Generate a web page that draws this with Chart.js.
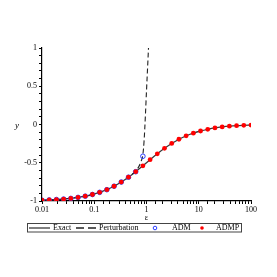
<!DOCTYPE html>
<html><head><meta charset="utf-8">
<script src="https://cdn.jsdelivr.net/npm/chart.js@4"></script>
<style>html,body{margin:0;padding:0;background:#fff}#wrap{width:277px;height:277px}</style>
</head><body><div id="wrap"><canvas id="c" width="277" height="277"></canvas></div>
<script>
const epsValues = [0.01,0.01374,0.01888,0.02593,0.03562,0.04894,0.06723,0.09237,0.1269,0.1743,0.2395,0.3290,0.4520,0.6210,0.8532,1.172,1.610,2.212,3.039,4.175,5.736,7.880,10.83,14.87,20.43,28.07,38.57,52.98,72.79,100];
const exactY = [-0.99,-0.986,-0.981,-0.975,-0.966,-0.953,-0.937,-0.915,-0.887,-0.852,-0.807,-0.752,-0.689,-0.617,-0.540,-0.460,-0.383,-0.311,-0.248,-0.193,-0.148,-0.113,-0.085,-0.063,-0.045,-0.032,-0.022,-0.015,-0.011,-0.008];
const admpY = [-0.99,-0.986,-0.981,-0.975,-0.966,-0.953,-0.937,-0.915,-0.887,-0.852,-0.807,-0.752,-0.689,-0.617,-0.540,-0.460,-0.383,-0.311,-0.248,-0.193,-0.148,-0.113,-0.085,-0.063,-0.045,-0.032,-0.022,-0.015,-0.011,-0.008];
const admEps = [0.01,0.01374,0.01888,0.02593,0.03562,0.04894,0.06723,0.09237,0.1269,0.1743,0.2395,0.3290,0.4520,0.6210,0.8532];
const admY = [-0.99,-0.986,-0.981,-0.975,-0.966,-0.953,-0.937,-0.915,-0.887,-0.852,-0.807,-0.752,-0.689,-0.617,-0.415];
const pertEps = [0.01,0.02,0.05,0.1,0.2,0.3,0.4,0.5,0.6,0.7,0.75,0.8,0.85,0.9,0.95,1.0,1.05,1.1,1.15];
const pertY = [-0.99,-0.98,-0.952,-0.909,-0.833,-0.769,-0.714,-0.665,-0.62,-0.56,-0.52,-0.47,-0.40,-0.21,0.10,0.44,0.75,1.05,1.4];
const xTicks = [0.01,0.1,1,10,100];
const yTicks = [-1,-0.5,0,0.5,1];
const seriesNames = ['Exact','Perturbation','ADM','ADMP'];
const xTitle = 'ε', yTitle = 'y';

const pts = (xs, ys) => xs.map((x, i) => ({x, y: ys[i]}));
const SERIF = '"Liberation Serif","DejaVu Serif",serif';

const legendPlugin = {
  id: 'boxLegend',
  afterDraw(chart) {
    const ctx = chart.ctx;
    const ds = chart.data.datasets;
    ctx.save();
    ctx.font = 'italic 9px ' + SERIF;
    ctx.fillStyle = '#000';
    ctx.textAlign = 'center'; ctx.textBaseline = 'middle';
    ctx.fillText(yTitle, 17, 126);
    const yc = 228;
    ctx.strokeStyle = '#444'; ctx.lineWidth = 1;
    ctx.strokeRect(27.5, 223.5, 214, 8.5);
    ctx.font = '8px ' + SERIF;
    ctx.textAlign = 'left';
    ctx.fillStyle = '#000';
    ctx.strokeStyle = ds[0].borderColor; ctx.lineWidth = 1.3; ctx.setLineDash([]);
    ctx.beginPath(); ctx.moveTo(29, yc); ctx.lineTo(50, yc); ctx.stroke();
    ctx.fillText(ds[0].label, 53, yc);
    ctx.strokeStyle = ds[1].borderColor; ctx.setLineDash([8, 4]);
    ctx.beginPath(); ctx.moveTo(76, yc); ctx.lineTo(97, yc); ctx.stroke();
    ctx.setLineDash([]);
    ctx.fillText(ds[1].label, 99, yc);
    ctx.strokeStyle = ds[2].pointBorderColor; ctx.lineWidth = 1;
    ctx.beginPath(); ctx.arc(155, yc, 1.8, 0, Math.PI*2); ctx.stroke();
    ctx.fillText(ds[2].label, 172, yc);
    ctx.fillStyle = ds[3].pointBackgroundColor;
    ctx.beginPath(); ctx.arc(202, yc, 1.8, 0, Math.PI*2); ctx.fill();
    ctx.fillStyle = '#000';
    ctx.fillText(ds[3].label, 216, yc);
    ctx.restore();
  }
};

new Chart(document.getElementById('c'), {
  type: 'line',
  data: {
    datasets: [
      {label: seriesNames[0], data: pts(epsValues, exactY), borderColor: '#3a3a3a', borderWidth: 1.3, pointRadius: 0, cubicInterpolationMode: 'monotone', order: 4},
      {label: seriesNames[1], data: pts(pertEps, pertY), borderColor: '#222', borderWidth: 1.1, borderDash: [5, 3], pointRadius: 0, cubicInterpolationMode: 'monotone', order: 3},
      {label: seriesNames[2], data: pts(admEps, admY), showLine: false, pointRadius: 2.3, pointBorderWidth: 1, pointBorderColor: '#2a3cff', pointBackgroundColor: 'rgba(0,0,0,0)', order: 2},
      {label: seriesNames[3], data: pts(epsValues, admpY), showLine: false, pointRadius: 2.4, pointBorderWidth: 0, pointBorderColor: '#ff0000', pointBackgroundColor: '#ff0000', order: 1}
    ]
  },
  options: {
    responsive: false, animation: false,
    layout: {padding: {left: 0, top: 48, right: 26, bottom: 54}},
    plugins: {legend: {display: false}, tooltip: {enabled: false}},
    scales: {
      x: {
        type: 'logarithmic', min: 0.01, max: 100,
        afterFit(s) { s.height = 22; },
        border: {display: true, color: '#000', width: 1.2},
        grid: {drawOnChartArea: false, tickLength: 3, color: '#000'},
        ticks: {autoSkip: false, maxRotation: 0, padding: 1, color: '#000', font: {family: SERIF, size: 8},
          callback(v) { return xTicks.some(t => Math.abs(t - v) / t < 1e-6) ? String(v) : ''; }},
        title: {display: true, text: xTitle, color: '#000', font: {family: SERIF, size: 8}, padding: {top: 0, bottom: 0}}
      },
      y: {
        min: -1, max: 1,
        afterFit(s) { s.width = 42; },
        border: {display: true, color: '#000', width: 1.2},
        grid: {drawOnChartArea: false, tickLength: 3, color: '#000'},
        ticks: {stepSize: 0.1, autoSkip: false, padding: 2, color: '#000', font: {family: SERIF, size: 8},
          callback(v) { const t = yTicks.find(t => Math.abs(t - v) < 1e-6); return t === undefined ? '' : String(t); }}
      }
    }
  },
  plugins: [legendPlugin]
});
</script></body></html>
